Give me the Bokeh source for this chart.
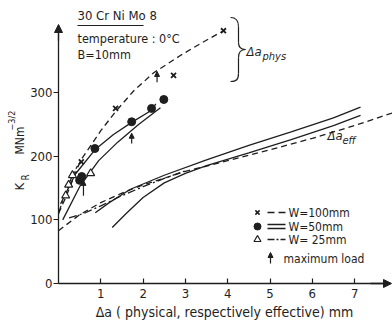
import numpy as np
from bokeh.plotting import figure
from bokeh.models import Range1d, Label, Arrow, NormalHead, ColumnDataSource, FixedTicker
from bokeh.embed import file_html
from bokeh.resources import INLINE

# ---------------- data ----------------
# measured points, W = 100 / 50 / 25 mm
w100_x = [0.54, 1.35, 2.72, 3.9]
w100_y = [191, 275, 327, 397]
w50_x = [0.5, 0.55, 0.86, 1.73, 2.2, 2.49]
w50_y = [162, 168, 212, 254, 275, 289]
w25_x = [0.17, 0.24, 0.33, 0.76]
w25_y = [138, 155, 170, 173]

# R-curves vs physical crack extension
phys100_x = [0, 0.17, 0.52, 1.0, 1.35, 1.77, 2.25, 2.88, 3.36, 3.9]
phys100_y = [110, 135, 193, 240, 270, 302, 331, 358, 377, 397]
phys50a_x = [0.05, 0.4, 0.86, 1.3, 1.73, 2.2, 2.3]
phys50a_y = [125, 172, 210, 234, 253, 272, 282]
phys50b_x = [0.1, 0.5, 0.95, 1.4, 1.9, 2.41]
phys50b_y = [100, 152, 193, 222, 250, 276]
phys25_x = [0, 0.15, 0.3, 0.45]
phys25_y = [110, 140, 165, 185]

# R-curves vs effective crack extension
eff100_x = [0, 0.5, 1, 1.5, 2, 3, 4, 5, 6, 7, 7.9]
eff100_y = [83, 108, 127, 142, 155, 176, 193, 210, 228, 248, 268]
eff50a_x = [0.87, 1.2, 1.7, 2.5, 3.5, 4.5, 5.5, 6.5, 7.14]
eff50a_y = [111, 127, 148, 170, 194, 217, 238, 260, 277]
eff50b_x = [1.27, 1.6, 2.0, 2.5, 3.0, 3.5, 4.5, 5.5, 6.5, 7.14]
eff50b_y = [88, 110, 135, 158, 173, 185, 205, 226, 248, 264]
eff25_x = [0.25, 0.6, 1.0, 1.5, 2.0, 2.5, 3.0]
eff25_y = [103, 110, 122, 138, 152, 165, 177]

# maximum load arrows
maxload_x = [0.59, 1.73, 2.33]
maxload_y0 = [138, 220, 316]
maxload_y1 = [162, 236, 333]

x_ticks = [1, 2, 3, 4, 5, 6, 7]
y_ticks = [0, 100, 200, 300]

# ---------------- styling / layout ----------------
FONT = "DejaVu Sans Condensed"
INK = "#1e1e1e"
W, H = 392, 325
OX, OY = 58.0, 283.0          # pixel position of the origin
SX, SY = 42.3, 0.6367         # pixels per unit


def X(px):
    return (px - OX) / SX


def Y(py):
    return (OY - py) / SY


p = figure(width=W, height=H, output_backend="svg", toolbar_location=None,
           x_range=Range1d(X(0), X(W)), y_range=Range1d(Y(H), Y(0)),
           min_border=0)
p.outline_line_color = None
p.grid.grid_line_color = None
p.background_fill_color = "white"
p.border_fill_color = "white"

for ax in (p.xaxis, p.yaxis):
    ax.fixed_location = 0
    ax.axis_line_color = INK
    ax.axis_line_width = 1.3
    ax.major_tick_line_color = INK
    ax.major_tick_line_width = 1.2
    ax.minor_tick_line_color = None
    ax.major_label_text_font = FONT
    ax.major_label_text_font_size = "13px"
    ax.major_label_text_color = INK

p.xaxis.ticker = FixedTicker(ticks=x_ticks)
p.xaxis.bounds = (0, X(390))
p.xaxis.major_tick_in = 5
p.xaxis.major_tick_out = 0
p.xaxis.major_label_standoff = 5
p.xaxis.axis_label = "Δa ( physical, respectively effective) mm"
p.xaxis.axis_label_text_font = FONT
p.xaxis.axis_label_text_font_size = "14px"
p.xaxis.axis_label_text_font_style = "normal"
p.xaxis.axis_label_text_color = INK
p.xaxis.axis_label_standoff = 3

p.yaxis.ticker = FixedTicker(ticks=y_ticks)
p.yaxis.bounds = (0, Y(33))
p.yaxis.major_tick_in = 0
p.yaxis.major_tick_out = 5
p.yaxis.major_label_standoff = 1

# axis arrows
p.add_layout(Arrow(end=NormalHead(size=8, fill_color=INK, line_color=INK),
                   x_start=0, y_start=Y(40), x_end=0, y_end=Y(24),
                   line_color=INK, line_width=1.3))
p.add_layout(Arrow(end=NormalHead(size=8, fill_color=INK, line_color=INK),
                   x_start=X(370), y_start=0, x_end=X(391), y_end=0,
                   line_color=INK, line_width=1.3))

LW = 1.3
DASH = "6 4"
DASHDOT = "8 3 2 3"

# curves
p.line(phys100_x, phys100_y, line_color=INK, line_width=LW, line_dash=DASH)
p.line(phys50a_x, phys50a_y, line_color=INK, line_width=LW)
p.line(phys50b_x, phys50b_y, line_color=INK, line_width=LW)
p.line(phys25_x, phys25_y, line_color=INK, line_width=LW, line_dash=DASHDOT)
p.line(eff100_x, eff100_y, line_color=INK, line_width=LW, line_dash=DASH)
p.line(eff50a_x, eff50a_y, line_color=INK, line_width=LW)
p.line(eff50b_x, eff50b_y, line_color=INK, line_width=LW)
p.line(eff25_x, eff25_y, line_color=INK, line_width=LW, line_dash=DASHDOT)

# points
p.scatter(w100_x, w100_y, marker="x", size=7, line_color=INK, line_width=1.8)
p.scatter(w50_x, w50_y, marker="circle", size=8, fill_color=INK, line_color=INK)
p.scatter(w25_x, w25_y, marker="triangle", size=8, fill_color="white",
          line_color=INK, line_width=1.2)

# maximum-load arrows
src = ColumnDataSource(dict(x=maxload_x, y0=maxload_y0, y1=maxload_y1))
p.add_layout(Arrow(end=NormalHead(size=5, fill_color=INK, line_color=INK),
                   source=src, x_start="x", y_start="y0", x_end="x", y_end="y1",
                   line_color=INK, line_width=1.2))


# ---------------- texts ----------------
def label(px, py, text, size="13px", style="normal", **kw):
    p.add_layout(Label(x=X(px), y=Y(py), text=text, text_font=FONT,
                       text_font_size=size, text_font_style=style,
                       text_color=INK, **kw))


label(77, 22, "30 Cr Ni Mo 8")
p.line([X(77), X(143)], [Y(25), Y(25)], line_color=INK, line_width=1.1)
label(77, 45, "temperature : 0°C", size="12.5px")
label(77, 61, "B=10mm", size="12.5px")

# brace + Δa_phys
bz = dict(line_color=INK, line_width=1.2)
p.bezier(x0=[X(230), X(245)], y0=[Y(17), Y(49)], x1=[X(238), X(238)], y1=[Y(26), Y(57)],
         cx0=[X(236), X(241)], cy0=[Y(17), Y(49)], cx1=[X(238), X(238)], cy1=[Y(20), Y(51)], **bz)
p.bezier(x0=[X(238), X(238)], y0=[Y(42), Y(73)], x1=[X(245), X(230)], y1=[Y(49), Y(81)],
         cx0=[X(238), X(238)], cy0=[Y(47), Y(79)], cx1=[X(241), X(236)], cy1=[Y(49), Y(81)], **bz)
p.line([X(238), X(238)], [Y(26), Y(42)], **bz)
p.line([X(238), X(238)], [Y(57), Y(73)], **bz)
label(246, 58, "Δa", style="italic")
label(262, 62, "phys", size="11px", style="italic")

label(327, 142, "Δa", style="italic")
label(342, 146, "eff", size="11px", style="italic")

# y-axis label (rotated)
label(26, 190, "K", angle=np.pi / 2)
label(30, 180, "R", size="10px", angle=np.pi / 2)
label(26, 154, "MNm", size="12px", angle=np.pi / 2)
label(16, 130, "−3/2", size="9px", angle=np.pi / 2)

# ---------------- manual legend ----------------
rows = [212, 226, 239]
mx = 257
p.scatter([X(mx)], [Y(rows[0])], marker="x", size=6, line_color=INK, line_width=1.6)
p.scatter([X(mx)], [Y(rows[1])], marker="circle", size=7, fill_color=INK, line_color=INK)
p.scatter([X(mx)], [Y(rows[2])], marker="triangle", size=7, fill_color="white",
          line_color=INK, line_width=1.2)
p.line([X(267), X(285)], [Y(rows[0]), Y(rows[0])], line_color=INK, line_width=LW, line_dash="7 4")
p.line([X(267), X(285)], [Y(rows[1] - 2), Y(rows[1] - 2)], line_color=INK, line_width=LW)
p.line([X(267), X(285)], [Y(rows[1] + 2), Y(rows[1] + 2)], line_color=INK, line_width=LW)
p.line([X(267), X(285)], [Y(rows[2]), Y(rows[2])], line_color=INK, line_width=LW, line_dash="7 2 2 2")
for py, t in zip(rows, ["W=100mm", "W=50mm", "W= 25mm"]):
    label(288, py, t, size="12px", text_baseline="middle")
p.add_layout(Arrow(end=NormalHead(size=5, fill_color=INK, line_color=INK),
                   x_start=X(270), y_start=Y(263), x_end=X(270), y_end=Y(252),
                   line_color=INK, line_width=1.2))
label(283, 258, "maximum load", size="12px", text_baseline="middle")

open("out.html", "w").write(file_html(p, INLINE))
